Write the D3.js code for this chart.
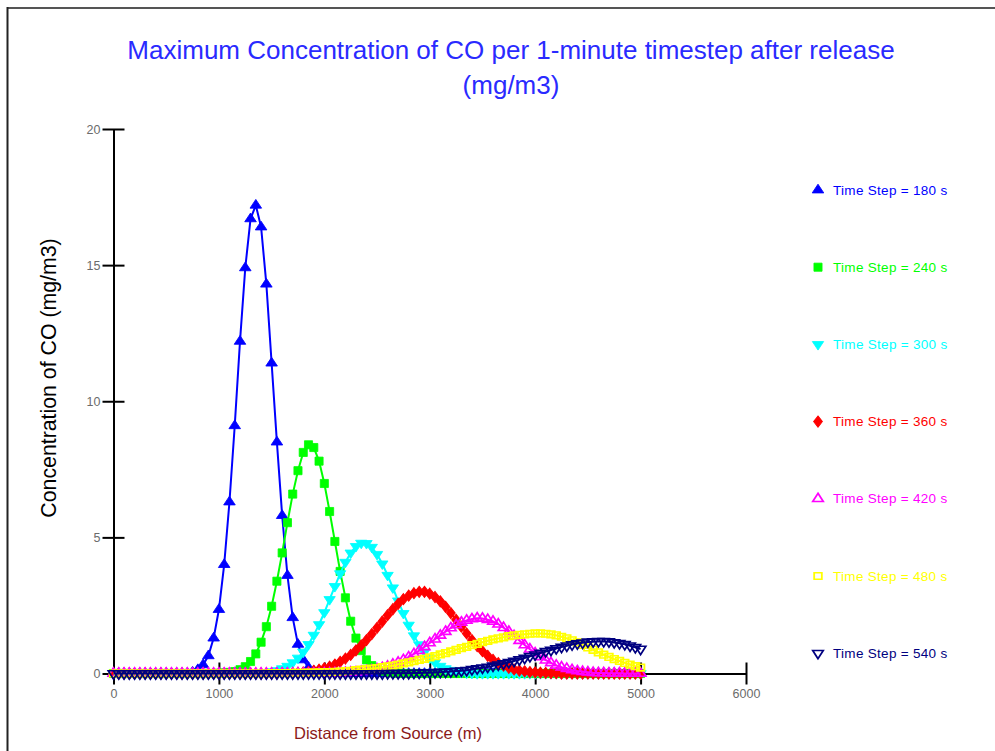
<!DOCTYPE html>
<html>
<head>
<meta charset="utf-8">
<script src="https://cdn.jsdelivr.net/npm/d3@7"></script>
<style>
  body { margin: 0; background: #fff; }
  svg { display: block; font-family: "Liberation Sans", Arial, sans-serif; }
</style>
</head>
<body>
<svg id="chart" width="995" height="751"></svg>
<script>
// Sampling grid along the plume axis (m)
const distanceStep = 50;
const distances = d3.range(0, 5000 + distanceStep, distanceStep);

const xTicks = [0, 1000, 2000, 3000, 4000, 5000, 6000];
const yTicks = [0, 5, 10, 15, 20];

const seriesNames = [
  "Time Step = 180 s", "Time Step = 240 s", "Time Step = 300 s",
  "Time Step = 360 s", "Time Step = 420 s", "Time Step = 480 s",
  "Time Step = 540 s"
];
const seriesColors = ["#0000ff", "#00ff00", "#00ffff", "#ff0000", "#ff00ff", "#ffff00", "#000080"];

// Maximum CO concentration (mg/m3) at each distance, one array per time step
const ts180 = [
  0, 0, 0, 0, 0, 0, 0, 0, 0, 0,
  0, 0, 0, 0, 0, 0.05, 0.14, 0.32, 0.65, 1.3,
  2.35, 4.0, 6.3, 9.1, 12.2, 14.9, 16.7, 17.2, 16.4, 14.3,
  11.4, 8.5, 5.8, 3.6, 2.05, 1.07, 0.5, 0.22, 0.08, 0.03,
  0.01, 0, 0, 0, 0, 0, 0, 0, 0, 0,
  0, 0, 0, 0, 0, 0, 0, 0, 0, 0,
  0, 0, 0, 0, 0, 0, 0, 0, 0, 0,
  0, 0, 0, 0, 0, 0, 0, 0, 0, 0,
  0, 0, 0, 0, 0, 0, 0, 0, 0, 0,
  0, 0, 0, 0, 0, 0, 0, 0, 0, 0,
  0
];
const ts240 = [
  0, 0, 0, 0, 0, 0, 0, 0, 0, 0,
  0, 0, 0, 0, 0, 0, 0, 0, 0, 0,
  0.01, 0.02, 0.04, 0.07, 0.14, 0.25, 0.44, 0.72, 1.15, 1.72,
  2.47, 3.39, 4.43, 5.54, 6.59, 7.45, 8.12, 8.4, 8.3, 7.8,
  6.98, 5.95, 4.85, 3.75, 2.78, 1.92, 1.3, 0.84, 0.5, 0.29,
  0.16, 0.08, 0.04, 0.02, 0.01, 0, 0, 0, 0, 0,
  0, 0, 0, 0, 0, 0, 0, 0, 0, 0,
  0, 0, 0, 0, 0, 0, 0, 0, 0, 0,
  0, 0, 0, 0, 0, 0, 0, 0, 0, 0,
  0, 0, 0, 0, 0, 0, 0, 0, 0, 0,
  0
];
const ts300 = [
  0, 0, 0, 0, 0, 0, 0, 0, 0, 0,
  0, 0, 0, 0, 0, 0, 0, 0, 0, 0,
  0, 0, 0, 0, 0, 0, 0.01, 0.02, 0.03, 0.04,
  0.07, 0.11, 0.18, 0.27, 0.4, 0.57, 0.79, 1.07, 1.41, 1.8,
  2.24, 2.72, 3.2, 3.67, 4.09, 4.43, 4.67, 4.79, 4.78, 4.64,
  4.38, 4.03, 3.61, 3.15, 2.67, 2.21, 1.78, 1.39, 1.06, 0.79,
  0.57, 0.4, 0.27, 0.18, 0.12, 0.07, 0.04, 0.02, 0.01, 0,
  0, 0, 0, 0, 0, 0, 0, 0, 0, 0,
  0, 0, 0, 0, 0, 0, 0, 0, 0, 0,
  0, 0, 0, 0, 0, 0, 0, 0, 0, 0,
  0
];
const ts360 = [
  0, 0, 0, 0, 0, 0, 0, 0, 0, 0,
  0, 0, 0, 0, 0, 0, 0, 0, 0, 0,
  0, 0, 0, 0, 0, 0, 0, 0, 0, 0,
  0, 0, 0.01, 0.01, 0.02, 0.03, 0.04, 0.06, 0.1, 0.14,
  0.19, 0.25, 0.33, 0.43, 0.55, 0.68, 0.85, 1.03, 1.23, 1.45,
  1.68, 1.91, 2.14, 2.36, 2.56, 2.73, 2.86, 2.95, 3.0, 3.0,
  2.93, 2.81, 2.65, 2.45, 2.22, 1.97, 1.72, 1.47, 1.23, 1.01,
  0.82, 0.65, 0.5, 0.38, 0.29, 0.21, 0.15, 0.11, 0.08, 0.05,
  0.04, 0.03, 0.02, 0.01, 0.01, 0, 0, 0, 0, 0,
  0, 0, 0, 0, 0, 0, 0, 0, 0, 0,
  0
];
const ts420 = [
  0, 0, 0, 0, 0, 0, 0, 0, 0, 0,
  0, 0, 0, 0, 0, 0, 0, 0, 0, 0,
  0, 0, 0, 0, 0, 0, 0, 0, 0, 0,
  0, 0, 0, 0, 0, 0, 0, 0, 0, 0,
  0.01, 0.01, 0.02, 0.02, 0.03, 0.04, 0.05, 0.07, 0.09, 0.12,
  0.16, 0.21, 0.26, 0.33, 0.41, 0.5, 0.6, 0.72, 0.84, 0.98,
  1.12, 1.26, 1.4, 1.54, 1.67, 1.78, 1.88, 1.95, 2.0, 2.03,
  2.02, 1.98, 1.91, 1.81, 1.68, 1.54, 1.38, 1.21, 1.05, 0.89,
  0.75, 0.61, 0.49, 0.39, 0.3, 0.23, 0.18, 0.13, 0.09, 0.07,
  0.05, 0.03, 0.02, 0.02, 0.01, 0.01, 0.01, 0, 0, 0,
  0
];
const ts480 = [
  0, 0, 0, 0, 0, 0, 0, 0, 0, 0,
  0, 0, 0, 0, 0, 0, 0, 0, 0, 0,
  0, 0, 0, 0, 0, 0, 0, 0, 0, 0,
  0.01, 0.01, 0.01, 0.01, 0.02, 0.02, 0.02, 0.03, 0.03, 0.04,
  0.05, 0.05, 0.06, 0.07, 0.09, 0.1, 0.12, 0.14, 0.16, 0.18,
  0.2, 0.23, 0.26, 0.29, 0.33, 0.37, 0.41, 0.45, 0.5, 0.54,
  0.59, 0.64, 0.7, 0.75, 0.81, 0.87, 0.93, 0.98, 1.04, 1.09,
  1.15, 1.2, 1.25, 1.29, 1.33, 1.37, 1.4, 1.42, 1.44, 1.46,
  1.47, 1.47, 1.46, 1.44, 1.4, 1.35, 1.29, 1.22, 1.14, 1.05,
  0.96, 0.87, 0.78, 0.69, 0.61, 0.53, 0.46, 0.39, 0.33, 0.27,
  0.22
];
const ts540 = [
  0, 0, 0, 0, 0, 0, 0, 0, 0, 0,
  0, 0, 0, 0, 0, 0, 0, 0, 0, 0,
  0, 0, 0, 0, 0, 0, 0, 0, 0, 0,
  0, 0, 0, 0, 0, 0, 0, 0, 0, 0,
  0, 0, 0, 0, 0, 0, 0, 0, 0, 0,
  0, 0, 0.01, 0.01, 0.01, 0.01, 0.01, 0.02, 0.02, 0.03,
  0.03, 0.04, 0.05, 0.06, 0.07, 0.09, 0.1, 0.12, 0.15, 0.18,
  0.21, 0.24, 0.28, 0.32, 0.36, 0.41, 0.46, 0.51, 0.57, 0.63,
  0.69, 0.75, 0.81, 0.86, 0.92, 0.97, 1.02, 1.06, 1.1, 1.13,
  1.16, 1.17, 1.18, 1.18, 1.17, 1.14, 1.11, 1.07, 1.02, 0.96,
  0.9
];
const seriesValues = [ts180, ts240, ts300, ts360, ts420, ts480, ts540];

// Marker style per series: symbol, rotation, filled/outlined, size, x-stretch
const markerStyles = [
  { type: d3.symbolTriangle, rotate: 0,   filled: true,  size: 44, sx: 1.15 },
  { type: d3.symbolSquare,   rotate: 0,   filled: true,  size: 66, sx: 1 },
  { type: d3.symbolTriangle, rotate: 180, filled: true,  size: 42, sx: 1.15 },
  { type: d3.symbolDiamond,  rotate: 0,   filled: true,  size: 36, sx: 1.35 },
  { type: d3.symbolTriangle, rotate: 0,   filled: false, size: 40, sx: 1.1 },
  { type: d3.symbolSquare,   rotate: 0,   filled: false, size: 44, sx: 1.15 },
  { type: d3.symbolTriangle, rotate: 180, filled: false, size: 40, sx: 1.1 }
];

const svg = d3.select("#chart");
const W = 995, H = 751;

const x = d3.scaleLinear().domain([0, 6000]).range([113.5, 746]);
const y = d3.scaleLinear().domain([0, 20]).range([673.5, 129]);

// Window frame
svg.append("line").attr("x1", 7).attr("x2", W).attr("y1", 8).attr("y2", 8)
  .attr("stroke", "#555").attr("stroke-width", 2);
svg.append("line").attr("x1", 7.5).attr("x2", 7.5).attr("y1", 7).attr("y2", H)
  .attr("stroke", "#222").attr("stroke-width", 2);

// Title
const title = svg.append("text").attr("text-anchor", "middle")
  .attr("fill", "#2a2aff").attr("font-size", 26);
title.append("tspan").attr("x", 511).attr("y", 59)
  .text("Maximum Concentration of CO per 1-minute timestep after release");
title.append("tspan").attr("x", 511).attr("y", 94).text("(mg/m3)");

// Axes
const xAxis = svg.append("g").attr("transform", `translate(0,${y(0)})`)
  .call(d3.axisBottom(x).tickValues(xTicks).tickFormat(d3.format("d"))
    .tickSizeOuter(0).tickSizeInner(11).tickPadding(5));
xAxis.select(".domain").attr("stroke", "#000").attr("stroke-width", 2);
xAxis.selectAll(".tick line").attr("y1", -11).attr("y2", 11).attr("stroke", "#000").attr("stroke-width", 2);
xAxis.selectAll(".tick text").attr("fill", "#6b6b6b").attr("font-size", 12.5)
  .attr("font-family", "Liberation Sans, Arial, sans-serif");

const yAxis = svg.append("g").attr("transform", `translate(${x(0)},0)`)
  .call(d3.axisLeft(y).tickValues(yTicks).tickFormat(d3.format("d"))
    .tickSizeOuter(0).tickSizeInner(11).tickPadding(2));
yAxis.select(".domain").attr("stroke", "#000").attr("stroke-width", 2);
yAxis.selectAll(".tick line").attr("x1", -11).attr("x2", 11).attr("stroke", "#000").attr("stroke-width", 2);
yAxis.selectAll(".tick text").attr("fill", "#6b6b6b").attr("font-size", 12.5)
  .attr("font-family", "Liberation Sans, Arial, sans-serif");

// Axis titles
svg.append("text").attr("text-anchor", "middle").attr("fill", "#8b1a1a")
  .attr("font-size", 16.5).attr("x", 388).attr("y", 739)
  .text("Distance from Source (m)");
svg.append("text").attr("text-anchor", "middle").attr("fill", "#000")
  .attr("font-size", 21.3).attr("transform", "translate(56,378) rotate(-90)")
  .text("Concentration of CO (mg/m3)");

// Series: connecting line then markers
const line = d3.line().x(d => x(d[0])).y(d => y(d[1]));

function drawMarker(sel, style, color) {
  sel.attr("d", d3.symbol().type(style.type).size(style.size))
    .attr("fill", style.filled ? color : "none")
    .attr("stroke", color)
    .attr("stroke-width", style.filled ? 0.8 : 1.6);
}

seriesValues.forEach((vals, i) => {
  const pts = distances.map((d, j) => [d, vals[j]]);
  const color = seriesColors[i];
  const style = markerStyles[i];
  const g = svg.append("g");
  g.append("path").datum(pts).attr("d", line)
    .attr("fill", "none").attr("stroke", color).attr("stroke-width", 2);
  g.selectAll("path.mk").data(pts).join("path").attr("class", "mk")
    .attr("transform", d => `translate(${x(d[0])},${y(d[1])}) rotate(${style.rotate}) scale(${style.sx},1)`)
    .call(drawMarker, style, color);
});

// Legend
const legendTop = 190, legendStep = 77.2;
seriesNames.forEach((name, i) => {
  const ly = legendTop + i * legendStep;
  const style = markerStyles[i];
  svg.append("path")
    .attr("transform", `translate(818,${ly}) rotate(${style.rotate}) scale(${style.sx},1)`)
    .call(drawMarker, style, seriesColors[i]);
  svg.append("text").attr("x", 833).attr("y", ly + 4.5)
    .attr("fill", seriesColors[i]).attr("font-size", 13.5)
    .attr("letter-spacing", 0.3)
    .text(name);
});
</script>
</body>
</html>
